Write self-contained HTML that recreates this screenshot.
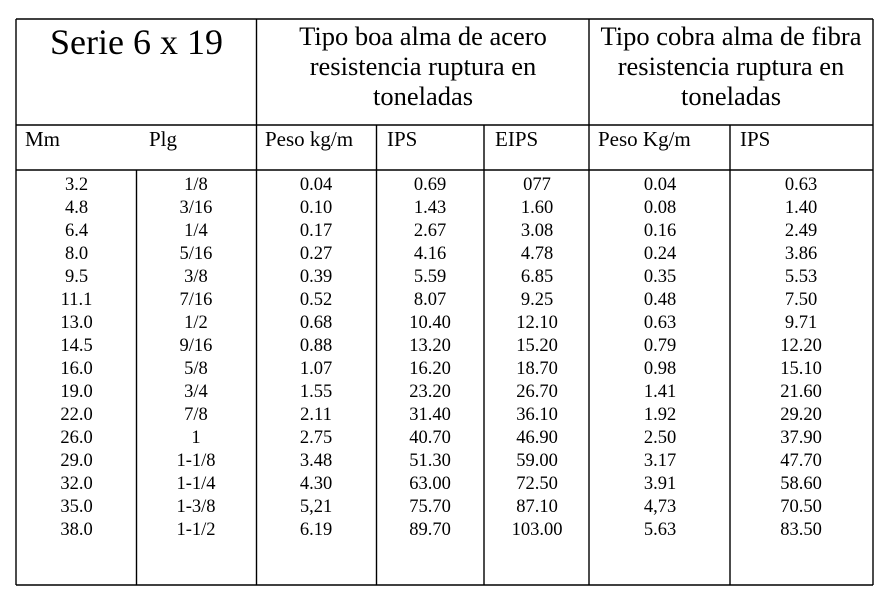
<!DOCTYPE html>
<html><head><meta charset="utf-8"><style>
html,body{margin:0;padding:0;background:#fff;}
svg{display:block;}
text{font-family:"Liberation Serif","Times New Roman",serif;fill:#000;}
.d{font-size:18.5px;text-anchor:middle;}
.s{font-size:21px;}
.h{font-size:26.5px;text-anchor:middle;}
</style></head><body>
<svg width="891" height="602" viewBox="0 0 891 602" xmlns="http://www.w3.org/2000/svg">
<g stroke="#000" stroke-width="1.4" fill="none">
<line x1="16" y1="19" x2="873" y2="19"/>
<line x1="16" y1="125" x2="873" y2="125"/>
<line x1="16" y1="170" x2="873" y2="170"/>
<line x1="16" y1="585" x2="873" y2="585"/>
<line x1="16" y1="19" x2="16" y2="585"/>
<line x1="873" y1="19" x2="873" y2="585"/>
<line x1="256.5" y1="19" x2="256.5" y2="585"/>
<line x1="589" y1="19" x2="589" y2="585"/>
<line x1="136.5" y1="170" x2="136.5" y2="585"/>
<line x1="376.5" y1="125" x2="376.5" y2="585"/>
<line x1="484" y1="125" x2="484" y2="585"/>
<line x1="730" y1="125" x2="730" y2="585"/>
</g>
<text x="136.5" y="54" style="font-size:36px;text-anchor:middle">Serie 6 x 19</text>
<text class="h" x="423" y="45">Tipo boa alma de acero</text>
<text class="h" x="423" y="75">resistencia ruptura en</text>
<text class="h" x="423" y="105">toneladas</text>
<text class="h" x="731" y="45">Tipo cobra alma de fibra</text>
<text class="h" x="731" y="75">resistencia ruptura en</text>
<text class="h" x="731" y="105">toneladas</text>
<text class="s" x="25" y="146">Mm</text>
<text class="s" x="149" y="146">Plg</text>
<text class="s" x="265" y="146">Peso kg/m</text>
<text class="s" x="387" y="146">IPS</text>
<text class="s" x="495" y="146">EIPS</text>
<text class="s" x="598" y="146">Peso Kg/m</text>
<text class="s" x="740" y="146">IPS</text>
<g class="d">
<text x="76.5" y="190">3.2</text><text x="196" y="190">1/8</text><text x="316" y="190">0.04</text><text x="430" y="190">0.69</text><text x="537" y="190">077</text><text x="660" y="190">0.04</text><text x="801" y="190">0.63</text>
<text x="76.5" y="213">4.8</text><text x="196" y="213">3/16</text><text x="316" y="213">0.10</text><text x="430" y="213">1.43</text><text x="537" y="213">1.60</text><text x="660" y="213">0.08</text><text x="801" y="213">1.40</text>
<text x="76.5" y="236">6.4</text><text x="196" y="236">1/4</text><text x="316" y="236">0.17</text><text x="430" y="236">2.67</text><text x="537" y="236">3.08</text><text x="660" y="236">0.16</text><text x="801" y="236">2.49</text>
<text x="76.5" y="259">8.0</text><text x="196" y="259">5/16</text><text x="316" y="259">0.27</text><text x="430" y="259">4.16</text><text x="537" y="259">4.78</text><text x="660" y="259">0.24</text><text x="801" y="259">3.86</text>
<text x="76.5" y="282">9.5</text><text x="196" y="282">3/8</text><text x="316" y="282">0.39</text><text x="430" y="282">5.59</text><text x="537" y="282">6.85</text><text x="660" y="282">0.35</text><text x="801" y="282">5.53</text>
<text x="76.5" y="305">11.1</text><text x="196" y="305">7/16</text><text x="316" y="305">0.52</text><text x="430" y="305">8.07</text><text x="537" y="305">9.25</text><text x="660" y="305">0.48</text><text x="801" y="305">7.50</text>
<text x="76.5" y="328">13.0</text><text x="196" y="328">1/2</text><text x="316" y="328">0.68</text><text x="430" y="328">10.40</text><text x="537" y="328">12.10</text><text x="660" y="328">0.63</text><text x="801" y="328">9.71</text>
<text x="76.5" y="351">14.5</text><text x="196" y="351">9/16</text><text x="316" y="351">0.88</text><text x="430" y="351">13.20</text><text x="537" y="351">15.20</text><text x="660" y="351">0.79</text><text x="801" y="351">12.20</text>
<text x="76.5" y="374">16.0</text><text x="196" y="374">5/8</text><text x="316" y="374">1.07</text><text x="430" y="374">16.20</text><text x="537" y="374">18.70</text><text x="660" y="374">0.98</text><text x="801" y="374">15.10</text>
<text x="76.5" y="397">19.0</text><text x="196" y="397">3/4</text><text x="316" y="397">1.55</text><text x="430" y="397">23.20</text><text x="537" y="397">26.70</text><text x="660" y="397">1.41</text><text x="801" y="397">21.60</text>
<text x="76.5" y="420">22.0</text><text x="196" y="420">7/8</text><text x="316" y="420">2.11</text><text x="430" y="420">31.40</text><text x="537" y="420">36.10</text><text x="660" y="420">1.92</text><text x="801" y="420">29.20</text>
<text x="76.5" y="443">26.0</text><text x="196" y="443">1</text><text x="316" y="443">2.75</text><text x="430" y="443">40.70</text><text x="537" y="443">46.90</text><text x="660" y="443">2.50</text><text x="801" y="443">37.90</text>
<text x="76.5" y="466">29.0</text><text x="196" y="466">1-1/8</text><text x="316" y="466">3.48</text><text x="430" y="466">51.30</text><text x="537" y="466">59.00</text><text x="660" y="466">3.17</text><text x="801" y="466">47.70</text>
<text x="76.5" y="489">32.0</text><text x="196" y="489">1-1/4</text><text x="316" y="489">4.30</text><text x="430" y="489">63.00</text><text x="537" y="489">72.50</text><text x="660" y="489">3.91</text><text x="801" y="489">58.60</text>
<text x="76.5" y="512">35.0</text><text x="196" y="512">1-3/8</text><text x="316" y="512">5,21</text><text x="430" y="512">75.70</text><text x="537" y="512">87.10</text><text x="660" y="512">4,73</text><text x="801" y="512">70.50</text>
<text x="76.5" y="535">38.0</text><text x="196" y="535">1-1/2</text><text x="316" y="535">6.19</text><text x="430" y="535">89.70</text><text x="537" y="535">103.00</text><text x="660" y="535">5.63</text><text x="801" y="535">83.50</text>
</g>
</svg>
</body></html>
